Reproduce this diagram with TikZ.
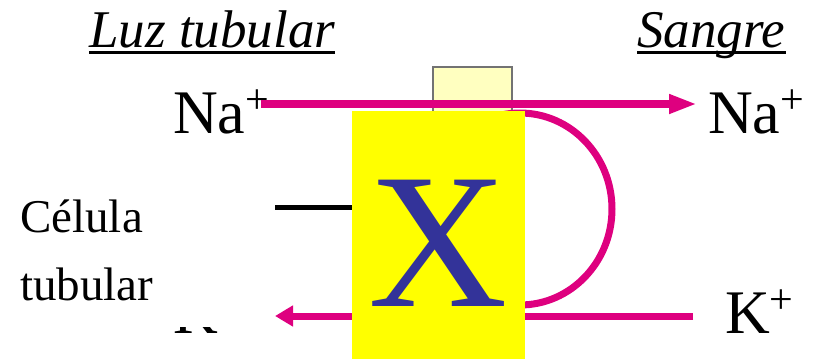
\documentclass[tikz,border=0pt]{standalone}
\usepackage{fontspec}
\setmainfont{Liberation Serif}
\usetikzlibrary{arrows.meta}
\definecolor{pump}{RGB}{222,0,127}
\definecolor{xblue}{RGB}{51,51,153}
\definecolor{paleyellow}{RGB}{255,255,192}
\definecolor{boxyellow}{RGB}{255,255,0}
\newcommand\supplus{\raisebox{20pt}{\fontsize{42}{42}\selectfont +}}
\begin{document}
\begin{tikzpicture}[x=1pt,y=-1pt,
  lbl/.style={inner sep=0pt, anchor=base west, text=black},
  big/.style={lbl, font=\fontsize{62}{62}\selectfont},
  head/.style={lbl, font=\fontsize{53}{53}\selectfont\itshape},
  side/.style={lbl, font=\fontsize{47}{47}\selectfont},
  flow/.style={draw=pump, line width=8pt},
  ul/.style={line width=3pt},
]
\useasboundingbox (0,0) rectangle (815,359);

% headings
\node[head] (luz) at (89,47) {Luz tubular};
\node[head] (sangre) at (637,47) {Sangre};
\draw[ul] ([yshift=-5pt]luz.base west) -- ([yshift=-5pt]luz.base east);
\draw[ul] ([yshift=-5pt]sangre.base west) -- ([yshift=-5pt]sangre.base east);

% ion labels
\node[big] (naleft) at (173,133) {Na\supplus};
\node[big] (naright) at (708,133) {Na\supplus};
\node[big] (kright) at (725,333) {K\supplus};
\node[big] (kleft) at (173,333) {K\supplus};

% carrier (small pale box)
\node[draw=black!55, fill=paleyellow, line width=1.5pt, minimum width=79pt,
      minimum height=50pt, anchor=north west, inner sep=0pt] (carrier) at (432,66) {};

% pump loop
\draw[draw=pump, line width=7pt] (520,209) ellipse [x radius=92pt, y radius=96pt];

% Na+ flow
\draw[flow, -{Triangle[length=28pt,width=18pt]}]
  ([xshift=-8pt,yshift=29pt]naleft.base east) -- ([xshift=-11pt,yshift=29pt]naright.base west);

% K+ flow
\coordinate (kin) at (275,316);
\draw[flow, line width=7pt, -{Triangle[length=18pt,width=20pt]}]
  ([xshift=-32pt,yshift=17pt]kright.base west) -- (kin);

% yellow box with X
\node[fill=boxyellow, minimum width=173pt, minimum height=248pt, inner sep=0pt] (xbox) at (438.5,235) {};
\coordinate (mline) at (275,207);
\draw[line width=5pt] (mline) -- (mline -| xbox.west);
\node[inner sep=0pt, anchor=base, text=xblue, font=\fontsize{193}{193}\selectfont]
  (xl) at ([yshift=-71pt]xbox.center) {X};

% cell label (covers the left K+)
\fill[white] (15,178) rectangle (262,327);
\node[side] (celula) at (20,232) {Célula};
\node[side] (tubular) at (20,300) {tubular};
\end{tikzpicture}
\end{document}
